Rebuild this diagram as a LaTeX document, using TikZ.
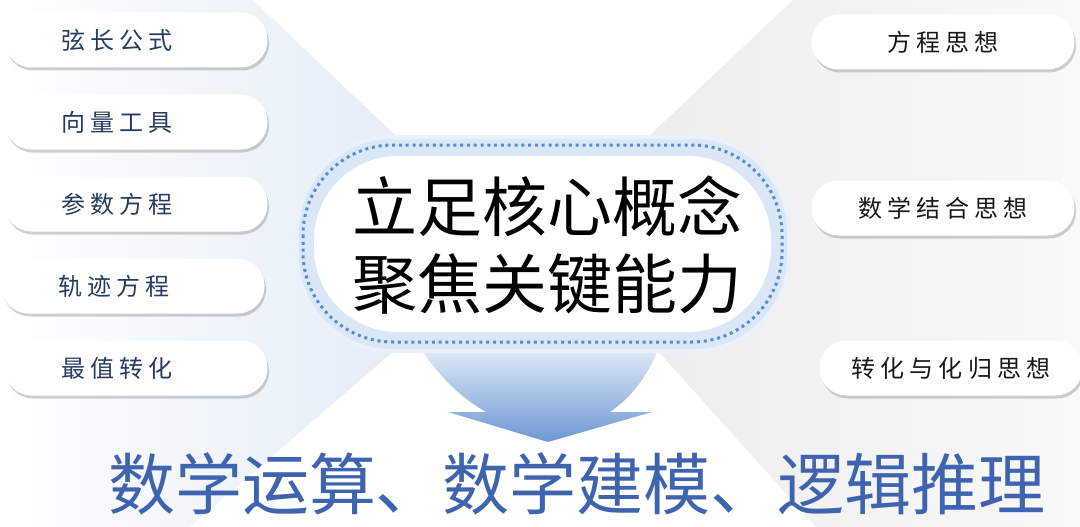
\documentclass[tikz,border=0pt]{standalone}
\usepackage{fontspec}
\newfontfamily\heiti{Noto Sans CJK SC}
\newfontfamily\kaiti[LetterSpace=21]{Noto Sans CJK SC}
\usetikzlibrary{positioning,shadows}
\definecolor{bgblue}{RGB}{220,231,245}
\definecolor{bggrey}{RGB}{234,234,234}
\definecolor{bglight}{RGB}{249,249,249}
\definecolor{glowblue}{RGB}{218,231,246}
\definecolor{glowlight}{RGB}{234,241,250}
\definecolor{dotblue}{RGB}{84,140,208}
\definecolor{arrowtop}{RGB}{236,242,251}
\definecolor{arrowbot}{RGB}{108,152,212}
\definecolor{navy}{RGB}{38,60,96}
\definecolor{goalblue}{RGB}{62,100,176}

\begin{document}
\begin{tikzpicture}[x=1pt,y=-1pt,node distance=82pt,
    pill/.style={rectangle,rounded corners=27pt,fill=white,minimum width=263pt,minimum height=55pt,
      drop shadow={shadow xshift=1.5pt,shadow yshift=-3pt,opacity=.3,fill=black!60}},
    topic/.style={pill,text width=150pt,inner xsep=56pt,align=left,text=navy,font=\kaiti\fontsize{24}{28}\selectfont},
    idea/.style={pill,align=center,text=black!90,font=\kaiti\fontsize{24}{28}\selectfont}]
  \useasboundingbox (0,0) rectangle (1080,527);
  \fill[white] (0,0) rectangle (1080,527);
  % background cross
  \shade[left color=white,right color=bgblue] (0,0) -- (253,0) -- (522,256) -- (395,350) -- (190,527) -- (0,527) -- cycle;
  \shade[left color=bggrey,right color=bglight] (793,0) -- (1080,0) -- (1080,527) -- (816,527) -- (657,350) -- (522,256) -- cycle;

  \node[topic] (l1) at (136,40) {弦长公式};
  \node[topic] (l2) [below of=l1] {向量工具};
  \node[topic] (l3) [below of=l2] {参数方程};
  \node[topic] (l4) [below of=l3,xshift=-3pt] {轨迹方程};
  \node[topic] (l5) [below of=l4,xshift=3pt] {最值转化};

  \node[idea] (r1) at (943,42) {方程思想};
  \node[idea] (r2) [node distance=166pt,below of=r1] {数学结合思想};
  \node[idea] (r3) [node distance=160pt,below of=r2,xshift=8pt] {转化与化归思想};

  % arrow under the core
  \shade[top color=arrowtop,bottom color=arrowbot] (415,340) .. controls (440,380) and (465,400) .. (486,412)
    -- (448,412) -- (548,442) -- (652,412) -- (610,412) .. controls (630,398) and (648,378) .. (662,340) -- cycle;

  \fill[glowlight,rounded corners=98pt] (295,135) rectangle (791,353);
  \fill[glowblue,rounded corners=94pt] (299,139) rectangle (787,349);
  \fill[white,rounded corners=84pt] (314,156) rectangle (771,332);
  \draw[dotblue,line width=3pt,dash pattern=on 3pt off 3.8pt,rounded corners=90pt] (303,145) rectangle (782,342);
  \node (core) at (547,245) [align=center,font=\heiti\fontsize{65}{77}\selectfont] {立足核心概念\\聚焦关键能力};

  \node (goal) at (577,484) [font=\heiti\fontsize{67}{70}\selectfont,text=goalblue] {数学运算、数学建模、逻辑推理};
\end{tikzpicture}
\end{document}
